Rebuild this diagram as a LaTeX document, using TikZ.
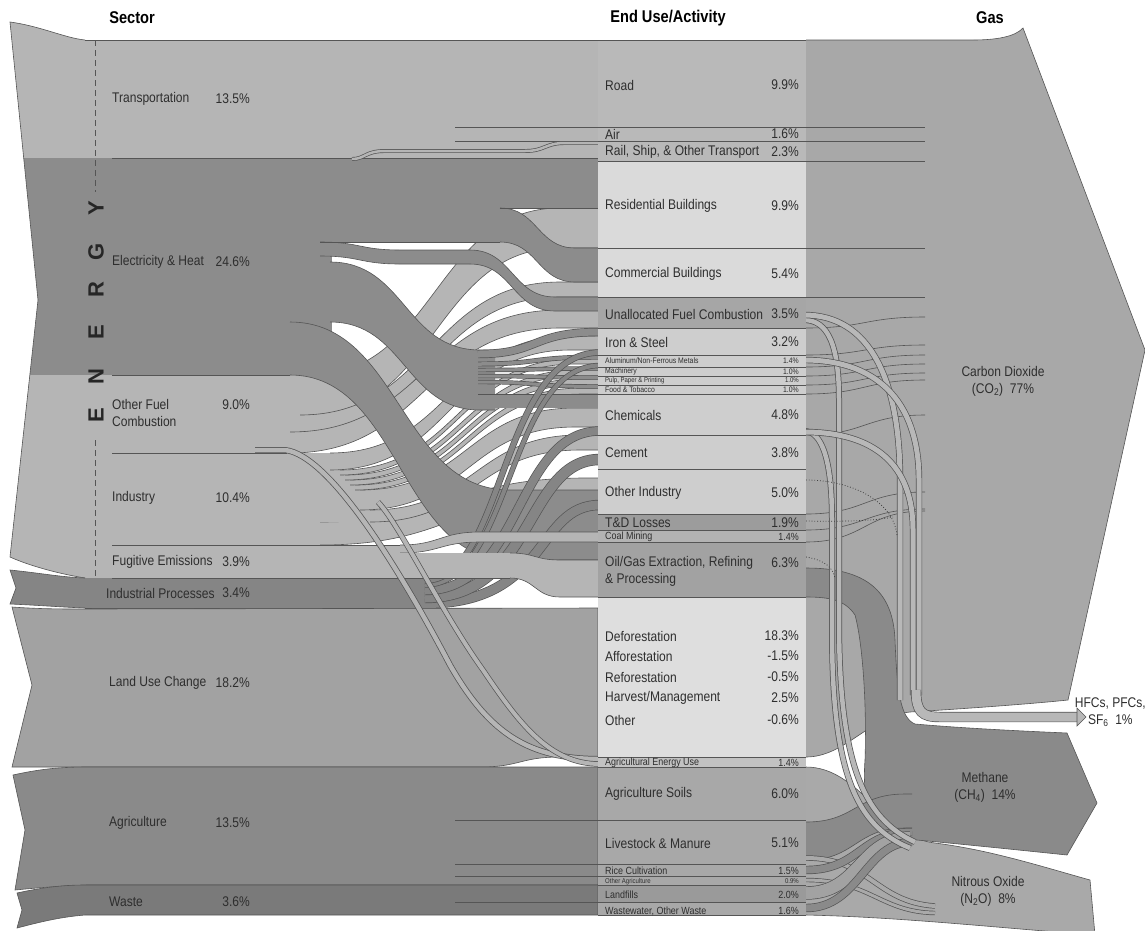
\documentclass[tikz,border=0pt]{standalone}
\usepackage{fontspec}
\setmainfont{Liberation Sans}[FakeStretch=0.86]
\newfontfamily\efont{Liberation Sans}
\definecolor{cT}{HTML}{B5B5B5}
\definecolor{cE}{HTML}{8C8C8C}
\definecolor{cIP}{HTML}{858585}
\definecolor{cLU}{HTML}{A2A2A2}
\definecolor{cAg}{HTML}{8A8A8A}
\definecolor{cW}{HTML}{7A7A7A}
\definecolor{cCO}{HTML}{A8A8A8}
\definecolor{cCH}{HTML}{8A8A8A}
\definecolor{cNO}{HTML}{A9A9A9}
\definecolor{cTx}{HTML}{2E2E2E}
\definecolor{cEdge}{HTML}{555555}
\definecolor{cTube}{HTML}{B8B8B8}
\definecolor{rT}{HTML}{B9B9B9}
\definecolor{rB}{HTML}{DADADA}
\definecolor{rU}{HTML}{A6A6A6}
\definecolor{rI}{HTML}{CECECE}
\definecolor{rTD}{HTML}{9C9C9C}
\definecolor{rCM}{HTML}{B3B3B3}
\definecolor{rOG}{HTML}{A2A2A2}
\definecolor{rLU}{HTML}{DEDEDE}
\definecolor{rAE}{HTML}{C2C2C2}
\definecolor{rAg}{HTML}{A8A8A8}
\definecolor{rLF}{HTML}{9A9A9A}
\newcommand{\szL}{\fontsize{14}{17}\selectfont}
\newcommand{\szS}{\fontsize{10.4}{12}\selectfont}
\newcommand{\szT}{\fontsize{8}{9}\selectfont}
\newcommand{\szU}{\fontsize{7}{8}\selectfont}
\newcommand{\szH}{\fontsize{17}{20}\selectfont\bfseries}
\tikzset{
 edge/.style={draw=cEdge, line width=0.6pt},
 lab/.style={anchor=west, text=cTx, inner sep=0pt, font=\szL},
 pct/.style={anchor=east, text=cTx, inner sep=0pt, font=\szL},
 hdr/.style={text=black, inner sep=0pt, font=\szH},
 gas/.style={text=cTx, inner sep=0pt, font=\szL, align=center},
 dots/.style={draw=black!75, dotted, line width=0.8pt}
}
% ribbon: colour, xa (fill start), x0 (curve start), y0a, y0b, x1 (curve end), xb (end), y1a, y1b
\newcommand{\ribx}[9]{%
 \pgfmathsetmacro{\ribxm}{(#3+#6)/2}%
 \fill[#1] (#2,#4) -- (#3,#4) .. controls (\ribxm,#4) and (\ribxm,#8) .. (#6,#8) -- (#7,#8) -- (#7,#9) -- (#6,#9) .. controls (\ribxm,#9) and (\ribxm,#5) .. (#3,#5) -- (#2,#5) -- cycle;
 \draw[edge] (#3,#4) .. controls (\ribxm,#4) and (\ribxm,#8) .. (#6,#8) -- (#7,#8);
 \draw[edge] (#3,#5) .. controls (\ribxm,#5) and (\ribxm,#9) .. (#6,#9) -- (#7,#9);}
% tube: colour, inner width, outer width, path
\newcommand{\tube}[4]{\draw[line width=#3, cEdge] #4; \draw[line width=#2, #1] #4;}
\begin{document}
\begin{tikzpicture}[x=1pt,y=-1pt]
\useasboundingbox (0,0) rectangle (1145,930);
\fill[white] (0,0) rectangle (1145,930);

% ---------------- Gas side ----------------
\fill[cCO] (806,40) -- (973,40) .. controls (995,40) and (1015,37) .. (1023,28) -- (1145,350) -- (1068,700) .. controls (1030,704) and (960,709) .. (910,712) .. controls (870,716) and (845,757) .. (806,757) -- cycle;
\draw[edge] (806,40) -- (973,40) .. controls (995,40) and (1015,37) .. (1023,28) -- (1145,350) -- (1068,700) .. controls (1030,704) and (960,709) .. (910,712) .. controls (870,716) and (845,757) .. (806,757);
\foreach \y in {127,141,161,248,297} \draw[edge] (806,\y) -- (925,\y);
\foreach \a/\b in {328/317,355/345,367/355,376/364,385/373,394/380,435/415,514/492,530/509,542/511}
  \draw[edge] (806,\a) .. controls (865,\a) and (865,\b) .. (925,\b);

% N2O
\fill[cNO] (806,767) .. controls (860,767) and (885,838) .. (935,843) .. controls (990,850) and (1040,866) .. (1090,880) -- (1095,935) .. controls (1000,928) and (900,917) .. (806,915) -- cycle;
\draw[edge] (806,767) .. controls (860,767) and (885,838) .. (935,843) .. controls (990,850) and (1040,866) .. (1090,880) -- (1095,935);
\draw[edge] (1095,935) .. controls (1000,928) and (900,917) .. (806,915);

% Methane
\fill[cCH] (806,568) .. controls (865,568) and (893,590) .. (895,640) .. controls (897,690) and (900,718) .. (915,724) .. controls (960,728) and (1020,731) .. (1067,733) -- (1097,803) -- (1067,855) .. controls (1000,848) and (940,842) .. (895,838) .. controls (870,835) and (862,800) .. (865,760) .. controls (867,700) and (862,640) .. (855,615) .. controls (845,600) and (830,597) .. (806,597) -- cycle;
\draw[edge] (806,568) .. controls (865,568) and (893,590) .. (895,640) .. controls (897,690) and (900,718) .. (915,724) .. controls (960,728) and (1020,731) .. (1067,733) -- (1097,803) -- (1067,855) .. controls (1000,848) and (940,842) .. (895,838) .. controls (870,835) and (862,800) .. (865,760) .. controls (867,700) and (862,640) .. (855,615) .. controls (845,600) and (830,597) .. (806,597);

% agriculture and waste flows to methane / N2O
\ribx{cCH}{806}{806}{822}{860}{905}{912}{794}{828}
\tube{cNO}{4pt}{5.4pt}{(806,858) .. controls (870,858) and (875,902) .. (935,906)}
\tube{cCH}{7pt}{8.4pt}{(806,870) .. controls (860,870) and (860,832) .. (912,832)}
\tube{cNO}{3pt}{4.4pt}{(806,880) .. controls (870,880) and (880,912) .. (935,913)}
\tube{cW!70!white}{12pt}{13.4pt}{(806,893) .. controls (860,893) and (860,838) .. (910,838)}
\tube{cCH}{7pt}{8.4pt}{(806,908) .. controls (860,908) and (865,842) .. (912,842)}

% arches
\tube{cTube}{4.5pt}{6pt}{(804,431) .. controls (822,431) and (832,460) .. (832,520) -- (832,630) .. controls (832,770) and (855,826) .. (910,848)}
\tube{cTube}{4.5pt}{6pt}{(804,320) .. controls (828,320) and (839,345) .. (839,400) -- (839,620) .. controls (839,760) and (862,818) .. (915,842)}
\tube{cTube}{5pt}{6.4pt}{(804,315) .. controls (870,315) and (900,380) .. (900,480) -- (900,700)}
\tube{cTube}{5pt}{6.4pt}{(804,360) .. controls (885,360) and (919,410) .. (919,480) -- (919,695)}
\tube{cTube}{5pt}{6.4pt}{(804,432) .. controls (875,432) and (913,465) .. (913,530) -- (913,695)}
% HFC arrow
\tube{cTube}{9pt}{10.4pt}{(916,690) .. controls (916,712) and (922,717) .. (940,717) -- (1078,717)}
\filldraw[fill=cTube, edge] (1077,708) -- (1086,717) -- (1077,726) -- cycle;
% dotted SF6
\draw[dots] (806,480) .. controls (850,480) and (893,500) .. (897,535);
\draw[dots] (806,521) .. controls (850,522) and (880,520) .. (893,517);
\draw[dots] (806,557) .. controls (825,560) and (833,568) .. (835,578);
\draw[dots] (545,533) .. controls (560,522) and (575,521) .. (598,521);

% ---------------- Sector side ----------------
% energy tail
\begin{scope}
\clip (10,22) .. controls (40,26) and (65,38) .. (85,40) -- (113,40) -- (113,578) -- (85,578) .. controls (60,574) and (30,566) .. (10,557) -- (38,300) -- cycle;
\fill[cT] (0,0) rectangle (113,158);
\fill[cE] (0,158) rectangle (113,375);
\fill[cT] (0,375) rectangle (113,578);
\end{scope}
\draw[edge] (85,40) .. controls (65,38) and (40,26) .. (10,22) -- (38,300) -- (10,557) .. controls (30,566) and (60,574) .. (85,578);

% transportation
\fill[cT] (85,40) rectangle (598,158);

% other fuel combustion flows
\ribx{cT}{112}{310}{375}{415}{560}{598}{208}{248}
\ribx{cT}{112}{300}{415}{432}{560}{598}{282}{297}
\ribx{cT}{112}{290}{432}{453}{560}{598}{310}{328}
% industry flows
\ribx{cT}{112}{320}{522}{545}{585}{598}{478}{496}
\ribx{cT}{112}{370}{510}{522}{580}{598}{435}{450}
\ribx{cT}{112}{360}{490}{510}{575}{598}{408}{427}
\ribx{cT}{112}{355}{485}{490}{582}{598}{388}{394}
\ribx{cT}{112}{350}{480}{485}{580}{598}{379}{385}
\ribx{cT}{112}{345}{475}{480}{578}{598}{370}{376}
\ribx{cT}{112}{340}{470}{475}{575}{598}{359}{364}
\ribx{cT}{112}{330}{453}{470}{570}{598}{336}{350}

% electricity block
\fill[cE] (100,158) rectangle (500,242);
\fill[cE] (100,242) rectangle (332,375);
\fill[cE] (500,158) rectangle (598,208);
\ribx{cE}{500}{500}{208}{242}{575}{598}{248}{282}
\ribx{cE}{320}{320}{242}{256}{400}{470}{250}{264}
\ribx{cE}{470}{470}{250}{264}{555}{598}{297}{311}
\ribx{cE}{330}{330}{262}{322}{480}{495}{350}{410}
\ribx{cE}{290}{290}{322}{375}{510}{598}{490}{560}
\draw[edge] (500,208) -- (598,208);
\draw[edge] (320,242) -- (500,242);
% electricity fans
\tube{cE}{7pt}{8.4pt}{(478,354) .. controls (540,354) and (530,332) .. (600,332)}
\tube{cE}{3.5pt}{4.9pt}{(478,364) .. controls (540,364) and (530,357) .. (600,357)}
\tube{cE}{3pt}{4.4pt}{(478,370) .. controls (540,370) and (530,368.5) .. (600,368.5)}
\tube{cE}{3pt}{4.4pt}{(478,376) .. controls (540,376) and (530,377.5) .. (600,377.5)}
\tube{cE}{3pt}{4.4pt}{(478,382) .. controls (540,382) and (530,386.5) .. (600,386.5)}
\tube{cE}{13pt}{14.4pt}{(478,401) -- (600,401)}

% industrial processes
\fill[cIP] (10,570) .. controls (40,573) and (60,577) .. (85,578) -- (430,578) -- (430,608) -- (85,608) .. controls (60,607) and (35,605) .. (10,604) -- (16,588) -- cycle;
\draw[edge] (85,578) .. controls (60,577) and (40,573) .. (10,570) -- (16,588) -- (10,604) .. controls (35,605) and (60,607) .. (85,608);
\tube{cIP}{9pt}{10.4pt}{(425,603.5) .. controls (550,603.5) and (535,505) .. (600,505)}
\tube{cIP}{10pt}{11.4pt}{(425,597.5) .. controls (535,597.5) and (525,459.5) .. (600,459.5)}
\tube{cIP}{8pt}{9.4pt}{(425,590.5) .. controls (522,590.5) and (515,431) .. (600,431)}
\tube{cIP}{4pt}{5.4pt}{(425,585) .. controls (512,585) and (507,365.5) .. (600,365.5)}
\tube{cIP}{5pt}{6.4pt}{(425,580.5) .. controls (505,580.5) and (500,352.5) .. (600,352.5)}

% fugitive emissions
\ribx{cT}{112}{400}{545}{553}{480}{598}{532}{542}
\ribx{cT}{112}{510}{553}{578}{560}{598}{560}{597}

% sector boundary lines
\draw[edge] (85,40) -- (598,40);
\draw[edge] (112,158) -- (598,158);
\draw[edge] (455,127) -- (598,127);
\draw[edge] (455,141) -- (598,141);
\draw[edge] (112,375) -- (290,375);
\draw[edge] (112,453) -- (287,453);
\draw[edge] (112,545) -- (400,545);
\draw[edge] (112,578) -- (510,578);
\draw[edge] (85,608) -- (470,608);

% land use change
\filldraw[fill=cLU, edge] (12,607) .. controls (40,609) and (60,609) .. (85,609) -- (598,608) -- (598,757) -- (560,757) .. controls (520,757) and (520,767) .. (480,767) -- (12,767) -- (32,685) -- cycle;
% agriculture
\filldraw[fill=cAg, edge] (13,775) .. controls (40,769) and (60,767) .. (87,767) -- (598,767) -- (598,885) -- (87,885) .. controls (60,886) and (35,888) .. (15,890) -- (25,830) -- cycle;
% waste
\filldraw[fill=cW, edge] (17,893) .. controls (40,888) and (60,885) .. (85,885) -- (598,885) -- (598,915) -- (85,915) .. controls (60,917) and (40,922) .. (17,928) -- (22,910) -- cycle;
\foreach \y in {820,864,876,902} \draw[edge] (455,\y) -- (598,\y);

% thin flows
\tube{cT}{4.5pt}{6pt}{(255,450) -- (285,450) .. controls (330,455) and (400,570) .. (450,665) .. controls (490,735) and (530,759) .. (600,759)}
\tube{cT}{4pt}{5.4pt}{(378,502) .. controls (400,525) and (440,610) .. (483,670) .. controls (520,725) and (550,764) .. (600,764)}
\tube{cT}{2.5pt}{3.9pt}{(352,159) .. controls (365,159) and (365,151) .. (385,151) -- (525,151) .. controls (545,151) and (545,143) .. (565,143) -- (600,143)}

% ---------------- End-use column ----------------
\foreach \a/\b/\c in {40/127/rT,127/141/rT,141/161/rT,161/248/rB,248/297/rB,297/328/rU,328/355/rI,355/367/rI,367/376/rI,376/385/rI,385/394/rI,394/435/rI,435/469/rI,469/514/rI,514/530/rTD,530/542/rCM,542/597/rOG,597/757/rLU,757/767/rAE,767/820/rAg,820/864/rAg,864/876/rAg,876/885/rAg,885/902/rLF,902/915/rAg}
  {\fill[\c] (598,\a) rectangle (806,\b); \draw[edge] (598,\a) -- (806,\a);}
\draw[edge] (598,915) -- (806,915);

% ---------------- Labels ----------------
\node[hdr] (hSec) at (132,18) {Sector};
\node[hdr] (hEnd) at (668,18) {End Use/Activity};
\node[hdr] (hGas) at (990,18) {Gas};

\draw[cEdge, dash pattern=on 6pt off 4pt, line width=0.8pt] (95,40) -- (95,192);
\draw[cEdge, dash pattern=on 6pt off 4pt, line width=0.8pt] (95,440) -- (95,578);
\foreach \l/\y [count=\i] in {E/415,N/377,E/332,R/290,G/252,Y/208}
  \node[rotate=90, inner sep=0pt, text=black!85, font=\efont\bfseries\fontsize{22}{22}\selectfont] (en\i) at (96,\y) {\l};

\node[lab] (sTr) at (112,99) {Transportation}; \node[pct] (sTrP) at (250,99) {13.5\%};
\node[lab] (sEl) at (112,262) {Electricity \& Heat}; \node[pct] (sElP) at (250,262) {24.6\%};
\node[lab, align=left] (sOf) at (112,413) {Other Fuel\\Combustion}; \node[pct] (sOfP) at (250,405) {9.0\%};
\node[lab] (sIn) at (112,498) {Industry}; \node[pct] (sInP) at (250,498) {10.4\%};
\node[lab] (sFu) at (112,562) {Fugitive Emissions}; \node[pct] (sFuP) at (250,562) {3.9\%};
\node[lab] (sIP) at (106,593) {Industrial Processes}; \node[pct] (sIPP) at (250,593) {3.4\%};
\node[lab] (sLU) at (109,683) {Land Use Change}; \node[pct] (sLUP) at (250,683) {18.2\%};
\node[lab] (sAg) at (109,823) {Agriculture}; \node[pct] (sAgP) at (250,823) {13.5\%};
\node[lab] (sWa) at (109,902) {Waste}; \node[pct] (sWaP) at (250,902) {3.6\%};

\node[lab] (uRo) at (605,85) {Road}; \node[pct] (pRo) at (799,85) {9.9\%};
\node[lab] (uAi) at (605,134) {Air}; \node[pct] (pAi) at (799,134) {1.6\%};
\node[lab] (uRa) at (605,152) {Rail, Ship, \& Other Transport}; \node[pct] (pRa) at (799,152) {2.3\%};
\node[lab] (uRe) at (605,206) {Residential Buildings}; \node[pct] (pRe) at (799,206) {9.9\%};
\node[lab] (uCo) at (605,274) {Commercial Buildings}; \node[pct] (pCo) at (799,274) {5.4\%};
\node[lab] (uUn) at (605,314) {Unallocated Fuel Combustion}; \node[pct] (pUn) at (799,314) {3.5\%};
\node[lab] (uIr) at (605,342) {Iron \& Steel}; \node[pct] (pIr) at (799,342) {3.2\%};
\node[lab, font=\szT] (uAl) at (605,361) {Aluminum/Non-Ferrous Metals}; \node[pct, font=\szT] (pAl) at (799,361) {1.4\%};
\node[lab, font=\szT] (uMa) at (605,371.5) {Machinery}; \node[pct, font=\szT] (pMa) at (799,371.5) {1.0\%};
\node[lab, font=\szU] (uPu) at (605,380.5) {Pulp, Paper \& Printing}; \node[pct, font=\szU] (pPu) at (799,380.5) {1.0\%};
\node[lab, font=\szT] (uFo) at (605,389.5) {Food \& Tobacco}; \node[pct, font=\szT] (pFo) at (799,389.5) {1.0\%};
\node[lab] (uCh) at (605,415) {Chemicals}; \node[pct] (pCh) at (799,415) {4.8\%};
\node[lab] (uCe) at (605,453) {Cement}; \node[pct] (pCe) at (799,453) {3.8\%};
\node[lab] (uOi) at (605,493) {Other Industry}; \node[pct] (pOi) at (799,493) {5.0\%};
\node[lab] (uTD) at (605,523) {T\&D Losses}; \node[pct] (pTD) at (799,523) {1.9\%};
\node[lab, font=\szS] (uCM) at (605,537) {Coal Mining}; \node[pct, font=\szS] (pCM) at (799,537) {1.4\%};
\node[lab, align=left] (uOG) at (605,571) {Oil/Gas Extraction, Refining\\\& Processing}; \node[pct] (pOG) at (799,563) {6.3\%};
\node[lab] (uDe) at (605,636) {Deforestation}; \node[pct] (pDe) at (799,636) {18.3\%};
\node[lab] (uAf) at (605,656) {Afforestation}; \node[pct] (pAf) at (799,656) {-1.5\%};
\node[lab] (uRf) at (605,677) {Reforestation}; \node[pct] (pRf) at (799,677) {-0.5\%};
\node[lab] (uHa) at (605,698) {Harvest/Management}; \node[pct] (pHa) at (799,698) {2.5\%};
\node[lab] (uOt) at (605,720) {Other}; \node[pct] (pOt) at (799,720) {-0.6\%};
\node[lab, font=\szS] (uAE) at (605,763) {Agricultural Energy Use}; \node[pct, font=\szS] (pAE) at (799,763) {1.4\%};
\node[lab] (uAS) at (605,794) {Agriculture Soils}; \node[pct] (pAS) at (799,794) {6.0\%};
\node[lab] (uLM) at (605,843) {Livestock \& Manure}; \node[pct] (pLM) at (799,843) {5.1\%};
\node[lab, font=\szS] (uRC) at (605,871) {Rice Cultivation}; \node[pct, font=\szS] (pRC) at (799,871) {1.5\%};
\node[lab, font=\szU] (uOA) at (605,881.5) {Other Agriculture}; \node[pct, font=\szU] (pOA) at (799,881.5) {0.9\%};
\node[lab, font=\szS] (uLF) at (605,895) {Landfills}; \node[pct, font=\szS] (pLF) at (799,895) {2.0\%};
\node[lab, font=\szS] (uWW) at (605,911) {Wastewater, Other Waste}; \node[pct, font=\szS] (pWW) at (799,911) {1.6\%};

\node[gas] (gCO) at (1003,381) {Carbon Dioxide\\(CO\textsubscript{2})\ \ 77\%};
\node[gas] (gCH) at (985,787) {Methane\\(CH\textsubscript{4})\ \ 14\%};
\node[gas] (gNO) at (988,891) {Nitrous Oxide\\(N\textsubscript{2}O)\ \ 8\%};
\node[gas, anchor=east] (gHF) at (1146,712) {HFCs, PFCs,\\SF\textsubscript{6}\ \ 1\%};
\end{tikzpicture}
\end{document}
